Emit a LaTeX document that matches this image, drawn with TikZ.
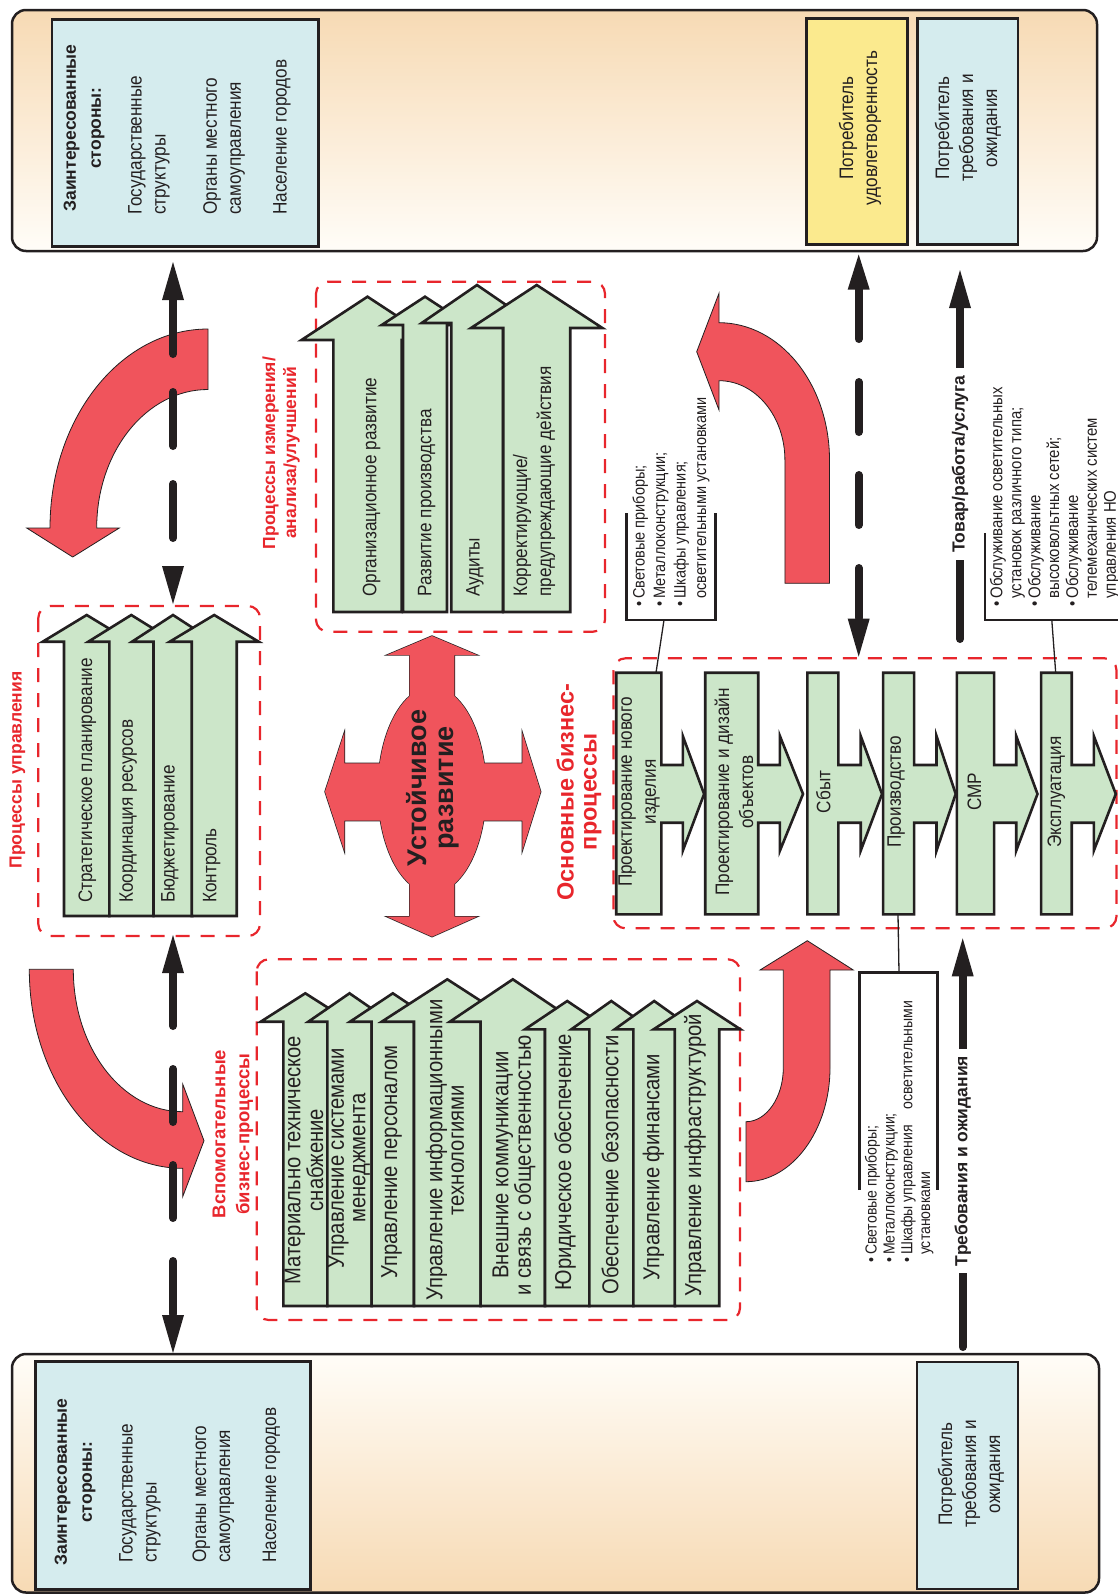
\documentclass[tikz,border=0pt]{standalone}
\usepackage{fontspec}
\setmainfont{Liberation Sans}[FakeStretch=0.88]
\newfontfamily\bsf{Liberation Sans}
\definecolor{rfill}{RGB}{240,84,92}
\definecolor{rline}{RGB}{232,38,44}
\definecolor{gfill}{RGB}{204,230,201}
\definecolor{bfill}{RGB}{213,236,238}
\definecolor{yfill}{RGB}{251,234,142}
\definecolor{otop}{RGB}{247,218,180}
\definecolor{obot}{RGB}{255,253,248}
\definecolor{dk}{RGB}{35,31,32}
\newcommand{\uparw}[6]{\filldraw[garr] ({#1-#2},#6) -- ({#1-#2},#5) -- ({#1-#3},#5) -- (#1,#4) -- ({#1+#3},#5) -- ({#1+#2},#5) -- ({#1+#2},#6) -- cycle;}
\newcommand{\bparw}[4]{\filldraw[garr] (#1,672.7) -- (#2,672.7) -- (#2,765) -- (#3,765) -- (#3,736) -- (#4,794) -- (#3,850.7) -- (#3,822.7) -- (#2,822.7) -- (#2,914.3) -- (#1,914.3) -- cycle;}
\newcommand{\hup}[3]{\fill[dk] ({#1-11},{#2+#3}) -- (#1,#2) -- ({#1+11},{#2+#3}) -- cycle;}
\newcommand{\hdn}[3]{\fill[dk] ({#1-11},{#2-#3}) -- (#1,#2) -- ({#1+11},{#2-#3}) -- cycle;}
\begin{document}
\begin{tikzpicture}[x=1pt,y=-1pt,
  bt/.style={rotate=90, inner sep=0pt, text=dk, font=\fontsize{19.5}{24}\selectfont},
  auxtxt/.style={rotate=90, inner sep=0pt, align=center, text=dk, font=\fontsize{23}{21.5}\selectfont},
  hd/.style={rotate=90, inner sep=0pt, align=center, text=dk, font=\bsf\bfseries\fontsize{17.5}{25}\selectfont},
  rl/.style={rotate=90, inner sep=0pt, align=center, text=rline, font=\bsf\bfseries\fontsize{17.5}{21}\selectfont},
  lt/.style={rotate=90, inner sep=0pt, align=left, text=dk, font=\fontsize{16.5}{20.5}\selectfont},
  garr/.style={fill=gfill, draw=dk, line width=2.6pt, line join=miter},
  rarr/.style={fill=rfill, draw=dk, line width=0.8pt},
  rbox/.style={draw=rline, line width=2.2pt, dash pattern=on 14pt off 11pt, rounded corners=12pt},
  sbox/.style={draw=dk, line width=2.5pt},
  brk/.style={draw=dk, line width=2.5pt},
  conn/.style={draw=dk, line width=1.3pt},
  bdash/.style={draw=dk, line width=8pt, line cap=round},
  sol/.style={draw=dk, line width=8pt, line cap=round}]
\useasboundingbox (0,0) rectangle (1118,1596);

% ---------- outer boxes ----------
\path[top color=otop, bottom color=obot, draw=dk, line width=2.5pt, rounded corners=14pt] (12,10) rectangle (1097,251);
\path[top color=obot, bottom color=otop, draw=dk, line width=2.5pt, rounded corners=14pt] (12,1354) rectangle (1099,1592.5);

\path[sbox, fill=bfill] (51.8,19.3) rectangle (318.6,246.7);
\path[sbox, fill=yfill] (806.6,18.3) rectangle (907.7,244.3);
\path[sbox, fill=bfill] (917.6,18.3) rectangle (1018,244.3);
\path[sbox, fill=bfill] (35.7,1361.7) rectangle (310.7,1589.3);
\path[sbox, fill=bfill] (917,1362) rectangle (1018,1589);

\node[hd] (s1h) at (84,128) {Заинтересованные\\стороны:};
\node[bt, anchor=west, align=left] (s1a) at (149,215) {Государственные\\структуры};
\node[bt, anchor=west, align=left] (s1b) at (224,215) {Органы местного\\самоуправления};
\node[bt, anchor=west] (s1c) at (282,215) {Население городов};

\node[hd] (s2h) at (75,1482) {Заинтересованные\\стороны:};
\node[bt, anchor=west, align=left] (s2a) at (140,1563) {Государственные\\структуры};
\node[bt, anchor=west, align=left] (s2b) at (213.4,1563) {Органы местного\\самоуправления};
\node[bt, anchor=west] (s2c) at (271.4,1563) {Население городов};

\node[bt, align=center] (ys) at (860,128) {Потребитель\\удовлетворенность};
\node[bt, align=center] (c1) at (968,128) {Потребитель\\требования и\\ожидания};
\node[bt, align=center] (c2) at (971,1474) {Потребитель\\требования и\\ожидания};

% ---------- red dashed frames ----------
\path[rbox] (38.3,606) rectangle (260,936);
\path[rbox] (316,281.7) rectangle (605,631.7);
\path[rbox] (613.4,658.3) rectangle (1116.5,928.3);
\path[rbox] (256.7,959.3) rectangle (740,1320);

% ---------- red curved arrows ----------
\path[rarr] (208,329) .. controls (120.7,329) and (50,418.1) .. (50,528) -- (26.7,528) -- (72.7,557) -- (119.3,528) -- (96.7,528) .. controls (96.7,451.5) and (146.5,389.5) .. (208,389.5) -- cycle;
\path[rarr] (29.3,969.3) .. controls (29.3,1079.2) and (98,1168.3) .. (182.7,1168.3) -- (182.7,1196.7) -- (204,1140.7) -- (182.7,1084) -- (182.7,1111.7) .. controls (122.3,1111.7) and (73.3,1047.9) .. (73.3,969.3) -- cycle;
\path[rarr] (829.5,583.3) -- (829.5,460) .. controls (829.5,384.2) and (780,322.7) .. (719,322.7) -- (719,293.3) -- (696.7,351.7) -- (719,410) -- (719,380.7) .. controls (755.4,380.7) and (784.9,416.2) .. (784.9,460) -- (784.9,583.3) -- cycle;
\path[rarr] (746,1181.7) -- (746,1121.7) .. controls (766.6,1121.7) and (783.3,1097) .. (783.3,1068) -- (783.3,970) -- (760,970) -- (807.3,940.7) -- (853.3,970) -- (830,970) -- (830,1068) .. controls (830,1129.7) and (792.4,1181.7) .. (746,1181.7) -- cycle;

% central cross
\draw[dk, line width=1.4pt] (409.7,655) -- (387,655) -- (432,636) -- (477,655) -- (454.3,655) -- (454.3,916.7) -- (477,916.7) -- (432,936.7) -- (387,916.7) -- (409.7,916.7) -- cycle;
\draw[dk, line width=1.4pt] (344.3,763.3) -- (344.3,732.7) -- (325,791.7) -- (344.3,850.7) -- (344.3,820.7) -- (522.3,820.7) -- (522.3,850.7) -- (540.7,791.7) -- (522.3,732.7) -- (522.3,763.3) -- cycle;
\draw[dk, line width=1.4pt] (432,790) ellipse [x radius=54pt, y radius=103pt];
\fill[rfill] (409.7,655) -- (387,655) -- (432,636) -- (477,655) -- (454.3,655) -- (454.3,916.7) -- (477,916.7) -- (432,936.7) -- (387,916.7) -- (409.7,916.7) -- cycle;
\fill[rfill] (344.3,763.3) -- (344.3,732.7) -- (325,791.7) -- (344.3,850.7) -- (344.3,820.7) -- (522.3,820.7) -- (522.3,850.7) -- (540.7,791.7) -- (522.3,732.7) -- (522.3,763.3) -- cycle;
\fill[rfill] (432,790) ellipse [x radius=54pt, y radius=103pt];
\node[rotate=90, align=center, inner sep=0pt, text=dk, font=\bsf\bfseries\fontsize{27}{27}\selectfont] (ust) at (433,788) {Устойчивое\\развитие};

% ---------- management arrows ----------
\uparw{86.7}{22.7}{44}{615}{641.7}{916}
\uparw{131.3}{22}{43}{615}{641.7}{916}
\uparw{173}{19.4}{41}{615}{641.7}{916}
\uparw{214.2}{22.5}{44.5}{615}{641.7}{916}
\node[bt, anchor=west] (m1) at (87.3,903) {Стратегическое планирование};
\node[bt, anchor=west] (m2) at (128.3,903) {Координация ресурсов};
\node[bt, anchor=west] (m3) at (170,903) {Бюджетирование};
\node[bt, anchor=west] (m4) at (211.7,903) {Контроль};

% ---------- measurement arrows ----------
\uparw{367.5}{34.2}{66}{296.7}{340}{612}
\uparw{425}{22}{43.3}{296.7}{325}{612}
\uparw{477}{25.8}{55.3}{285}{323}{612}
\uparw{536.7}{33.5}{65.7}{285}{328}{612}
\node[bt, anchor=west] (e1) at (371.7,597) {Организационное развитие};
\node[bt, anchor=west] (e2) at (426.7,597) {Развитие производства};
\node[bt, anchor=west] (e3) at (475,597) {Аудиты};
\node[bt, anchor=west, align=left] (e4) at (534,597) {Корректирующие/\\предупреждающие действия};

% ---------- auxiliary arrows ----------
\uparw{305.3}{22}{44.6}{993.3}{1021.7}{1306}
\uparw{349.5}{22.2}{41.2}{993.3}{1021.7}{1306}
\uparw{392.8}{21.2}{42.8}{993.3}{1021.7}{1306}
\uparw{447.3}{33.3}{65.6}{979.3}{1021.7}{1306}
\uparw{512.8}{32.2}{63}{979.3}{1021.7}{1306}
\uparw{567.2}{22.2}{42.2}{1001}{1029.3}{1306}
\uparw{611.3}{22}{40}{1001}{1029.3}{1306}
\uparw{654.2}{20.8}{39.5}{1001}{1029.3}{1306}
\uparw{697}{22.2}{43.4}{1001}{1029.3}{1306}
\node[auxtxt] (v1) at (304,1160) {Материально техническое\\снабжение};
\node[auxtxt] (v2) at (349,1158) {Управление системами\\менеджмента};
\node[auxtxt] (v3) at (391.7,1162) {Управление персоналом};
\node[auxtxt] (v4) at (445,1150) {Управление информационными\\технологиями};
\node[auxtxt] (v5) at (514,1165) {Внешние коммуникации\\и связь с общественностью};
\node[auxtxt] (v6) at (565,1162) {Юридическое обеспечение};
\node[auxtxt] (v7) at (610,1165) {Обеспечение безопасности};
\node[auxtxt] (v8) at (653.3,1167) {Управление финансами};
\node[auxtxt] (v9) at (695,1155) {Управление инфраструктурой};

% ---------- main business processes ----------
\bparw{616.2}{661.4}{682.8}{704.1}
\bparw{705.2}{758.2}{779.9}{803}
\bparw{807.3}{838.3}{860.7}{882}
\bparw{883.1}{914.1}{936.5}{955.7}
\bparw{956.8}{994.1}{1016.2}{1037.5}
\bparw{1041.1}{1071.7}{1093.8}{1115.8}
\node[bt, align=center] (p1) at (639,792) {Проектирование нового\\изделия};
\node[bt, align=center] (p2) at (734,792) {Проектирование и дизайн\\объектов};
\node[bt] (p3) at (823.3,792) {Сбыт};
\node[bt] (p4) at (896.3,792) {Производство};
\node[bt] (p5) at (974.5,792) {СМР};
\node[bt] (p6) at (1056.4,792) {Эксплуатация};

% ---------- red labels ----------
\node[rl] (lm) at (17.5,770) {Процессы управления};
\node[rl] (lizm) at (281,453) {Процессы измерения/\\анализа/улучшений};
\node[rl, font=\bsf\bfseries\fontsize{23.5}{23}\selectfont] (lob) at (579,792) {Основные бизнес-\\процессы};
\node[rl, font=\bsf\bfseries\fontsize{18.5}{24}\selectfont] (lvs) at (233,1134) {Вспомогательные\\бизнес-процессы};

% ---------- lists with brackets ----------
\node[lt, anchor=west] (l1) at (671,607) {•\kern3pt Световые приборы;\\•\kern3pt Металлоконструкции;\\•\kern3pt Шкафы управления;\\\hphantom{•\kern3pt }осветительными установками};
\draw[brk] (626.3,513.3) -- (626.3,620) -- (715.5,620) -- (715.5,513.3);
\coordinate (b1c) at (664,620);
\coordinate (p1t) at (656,672.7);
\draw[conn] (b1c) -- (p1t);

\node[lt, anchor=west, font=\fontsize{17}{18.9}\selectfont] (l2) at (1054.7,607) {•\kern3pt Обслуживание осветительных\\\hphantom{•\kern3pt }установок различного типа;\\•\kern3pt Обслуживание\\\hphantom{•\kern3pt }высоковольтных сетей;\\•\kern3pt Обслуживание\\\hphantom{•\kern3pt }телемеханических систем\\\hphantom{•\kern3pt }управления НО};
\draw[brk] (985,533.3) -- (985,620) -- (1120,620);
\coordinate (b2c) at (1051.8,620);
\coordinate (p6t) at (1055.7,672.7);
\draw[conn] (b2c) -- (p6t);

\node[lt, anchor=west, font=\fontsize{16}{17.8}\selectfont] (l3) at (899.2,1263) {•\kern3pt Световые приборы;\\•\kern3pt Металлоконструкции;\\•\kern3pt Шкафы управления\hspace{16pt}осветительными\\\hphantom{•\kern3pt }установками};
\draw[brk] (859.3,1190) -- (859.3,972.3) -- (937.3,972.3) -- (937.3,1190);
\coordinate (p4b) at (898,914.3);
\coordinate (b3c) at (899,972.3);
\draw[conn] (p4b) -- (b3c);

% ---------- black dashed arrows ----------
\coordinate (d1a) at (173,300); \coordinate (d1b) at (173,566);
\draw[bdash, dash pattern=on 54pt off 38pt] (d1a) -- (d1b);
\hup{173}{262}{38} \hdn{173}{604}{38}

\coordinate (d2a) at (173,973); \coordinate (d2b) at (173,1315);
\draw[bdash, dash pattern=on 53pt off 43pt] (d2a) -- (d2b);
\hup{173}{935}{38} \hdn{173}{1353}{38}

\coordinate (d3a) at (858.7,289); \coordinate (d3b) at (858.7,618);
\draw[bdash, dash pattern=on 50pt off 43pt] (d3a) -- (d3b);
\hup{858.7}{254.5}{35} \hdn{858.7}{656.7}{38}

% ---------- solid arrows ----------
\coordinate (g1a) at (960,639); \coordinate (g1b) at (960,306);
\draw[sol] (g1a) -- (g1b);
\hup{960}{270}{38}
\node[rotate=90, fill=white, inner xsep=7pt, inner ysep=3pt, text=dk, font=\bsf\bfseries\fontsize{17.5}{21}\selectfont] (tov) at (960,464) {Товар/работа/услуга};

\coordinate (g2a) at (962.7,1347); \coordinate (g2b) at (962.7,974);
\draw[sol] (g2a) -- (g2b);
\hup{962.7}{938.3}{38}
\node[rotate=90, fill=white, inner xsep=7pt, inner ysep=3pt, text=dk, font=\bsf\bfseries\fontsize{17.5}{21}\selectfont] (treb) at (962.7,1161) {Требования и ожидания};

\end{tikzpicture}
\end{document}
